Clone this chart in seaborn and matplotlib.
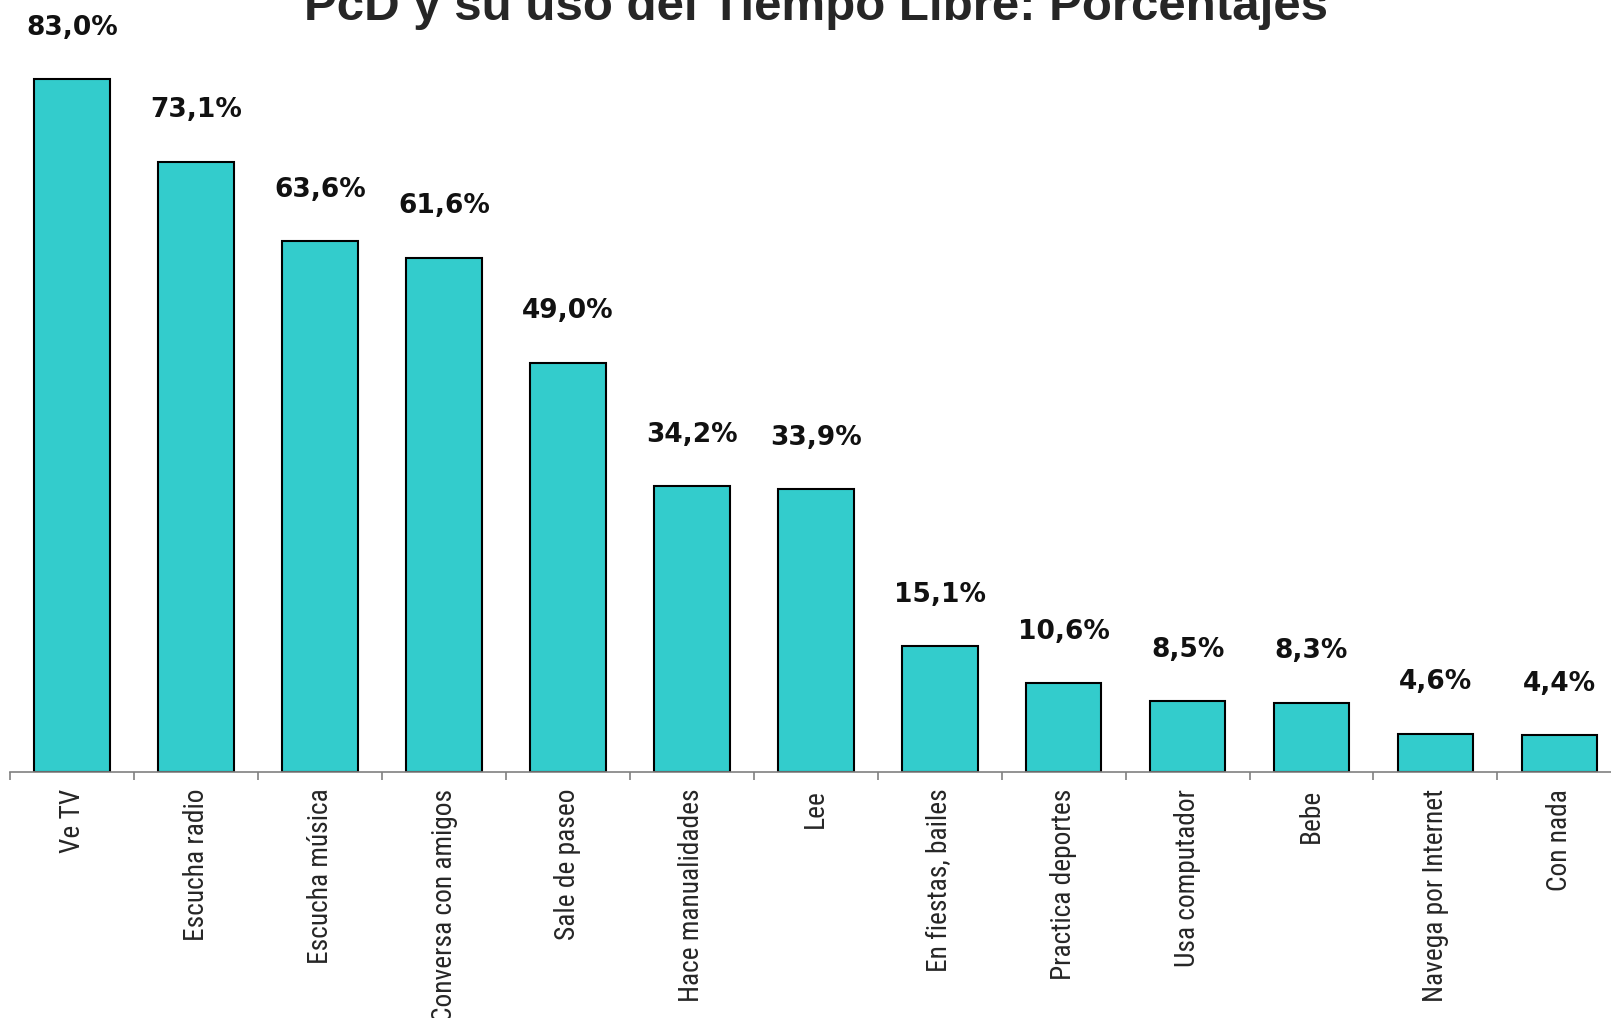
import numpy as np
import pandas as pd
import matplotlib
matplotlib.use("Agg")
import matplotlib.pyplot as plt
from matplotlib import font_manager
import seaborn as sns

# Data
actividades = ["Ve TV", "Escucha radio", "Escucha música", "Conversa con amigos",
               "Sale de paseo", "Hace manualidades", "Lee", "En fiestas, bailes",
               "Practica deportes", "Usa computador", "Bebe", "Navega por Internet",
               "Con nada"]
porcentajes = [83.0, 73.1, 63.6, 61.6, 49.0, 34.2, 33.9, 15.1, 10.6, 8.5, 8.3, 4.6, 4.4]
etiquetas = ["83,0%", "73,1%", "63,6%", "61,6%", "49,0%", "34,2%", "33,9%",
             "15,1%", "10,6%", "8,5%", "8,3%", "4,6%", "4,4%"]

df = pd.DataFrame({"actividad": actividades, "pct": porcentajes})

sns.set_style("white")
plt.rcParams["font.family"] = ["Liberation Sans", "DejaVu Sans"]

# look for a narrow font for the category labels (Arial Narrow look)
narrow = None
for pref in ["Liberation Sans Narrow", "Arial Narrow", "Roboto Condensed",
             "Open Sans Condensed"]:
    for f in font_manager.fontManager.ttflist:
        if f.name == pref and f.style == "normal" and f.weight in (400, "normal", "regular"):
            narrow = f.fname
            break
    if narrow:
        break
if narrow:
    tick_font = font_manager.FontProperties(fname=narrow)
else:
    tick_font = font_manager.FontProperties(family="Liberation Sans")

fig = plt.figure(figsize=(16.11, 10.18), dpi=100)
ax = fig.add_axes([10.3 / 1611, 246 / 1018, 1.0, 751.5 / 1018])

sns.barplot(data=df, x="actividad", y="pct", color="#33CCCC", saturation=1,
            edgecolor="black", linewidth=1.5, width=0.61, ax=ax)

ax.set_xlim(-0.5, len(actividades) - 0.5)
ax.set_ylim(0, 90)

# value labels above the bars
for i, (v, txt) in enumerate(zip(porcentajes, etiquetas)):
    ax.annotate(txt, (i, v), xytext=(0, 37), textcoords="offset points",
                ha="center", va="center", fontsize=19, fontweight="bold",
                family="DejaVu Sans", color="#111111")

# axes styling
for s in ["left", "right", "top"]:
    ax.spines[s].set_visible(False)
ax.spines["bottom"].set_color("#808080")
ax.spines["bottom"].set_linewidth(1.2)
ax.set_yticks([])
ax.set_xlabel("")
ax.set_ylabel("")
ax.set_xticks(range(len(actividades)))
ax.set_xticklabels(actividades, rotation=90, fontproperties=tick_font)
for lab in ax.get_xticklabels():
    lab.set_fontsize(21)
ax.tick_params(axis="x", which="major", length=0, pad=12)
ax.set_xticks(np.arange(-0.5, len(actividades), 1.0), minor=True)
ax.tick_params(axis="x", which="minor", bottom=True, length=6, width=1.2,
               color="#808080", direction="out")

# fit the label size so "Escucha radio" is as long as in the original (~152 px)
fig.canvas.draw()
r = fig.canvas.get_renderer()
h = ax.get_xticklabels()[1].get_window_extent(r).height
for lab in ax.get_xticklabels():
    lab.set_fontsize(21 * 152 / h)

fig.text(0.5065, 1 - 20 / 1018, "PcD y su uso del Tiempo Libre: Porcentajes",
         ha="center", va="baseline", fontsize=35.5, fontweight="bold",
         family="Liberation Sans")

fig.savefig("out.png", dpi=100)
